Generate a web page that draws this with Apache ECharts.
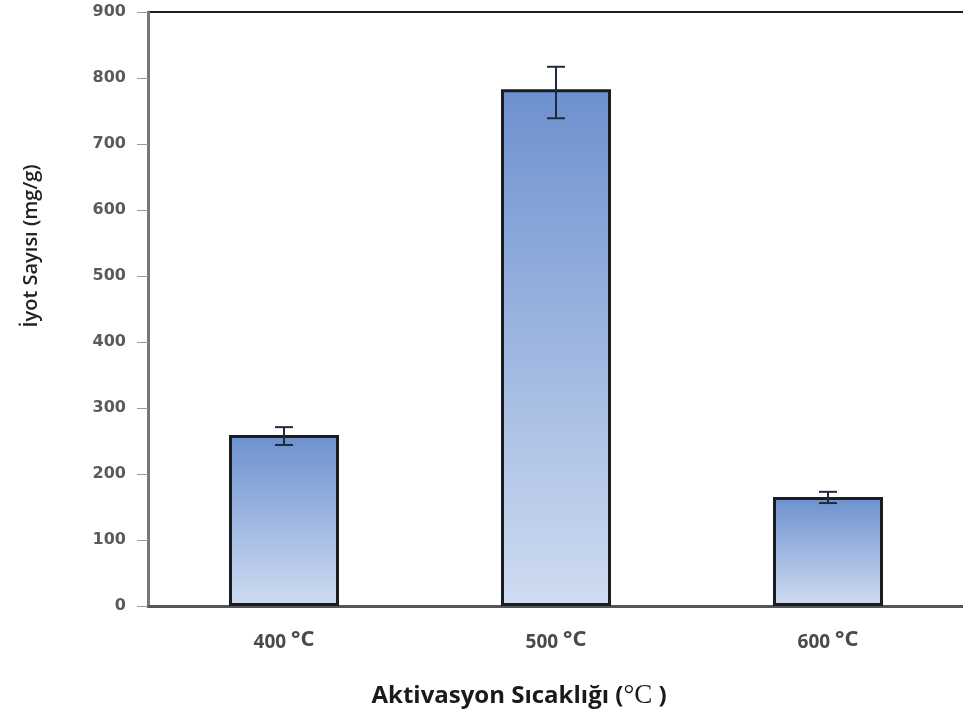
<!DOCTYPE html>
<html><head><meta charset="utf-8">
<script src="https://cdn.jsdelivr.net/npm/echarts@6/dist/echarts.min.js"></script>
<style>html,body{margin:0;padding:0;background:#fff}#c{width:963px;height:719px}</style>
</head><body><div id="c"></div>
<script>
const categories = ['400', '500', '600'];
const values = [259, 783, 165];
const errLow = [244, 739, 156];
const errHigh = [271, 817, 173];
const yTicks = [0, 100, 200, 300, 400, 500, 600, 700, 800, 900];

const chart = echarts.init(document.getElementById('c'));
chart.setOption({
  animation: false,
  grid: { left: 148, top: 12, width: 816, bottom: 113, outerBoundsMode: 'none', containLabel: false,
          show: true, borderColor: '#1f1f1f', borderWidth: 2 },
  xAxis: {
    type: 'category', data: categories,
    axisLine: { lineStyle: { color: '#555', width: 3 } },
    axisTick: { show: false },
    axisLabel: {
      margin: 22,
      formatter: v => '{n|' + v + ' }{d|°C}',
      rich: {
        n: { fontFamily: 'Open Sans', fontWeight: 'bold', fontSize: 19, color: '#4a4a4a', padding: [5, 0, 0, 0] },
        d: { fontFamily: 'Open Sans', fontWeight: 'bold', fontSize: 22, color: '#4a4a4a' }
      }
    }
  },
  yAxis: {
    type: 'value', min: 0, max: 900, interval: 100,
    splitLine: { show: false },
    axisLine: { show: true, lineStyle: { color: '#777', width: 3 } },
    axisTick: { show: true, length: 11, lineStyle: { color: '#999', width: 1 } },
    axisLabel: {
      margin: 22, fontFamily: 'DejaVu Sans', fontWeight: 'bold', fontSize: 16, color: '#5a5a5a',
      formatter: v => yTicks.includes(v) ? String(v) : ''
    }
  },
  graphic: [
    { type: 'text', x: 31, y: 246, rotation: Math.PI / 2,
      style: { text: 'İyot Sayısı (mg/g)', font: '600 20px "Open Sans"', fill: '#222', align: 'center', verticalAlign: 'middle' } },
    { type: 'text', x: 519, y: 696,
      style: {
        text: '{a|Aktivasyon Sıcaklığı (}{b|°C}{a| )}', align: 'center', verticalAlign: 'middle',
        rich: {
          a: { fontFamily: 'Open Sans', fontSize: 24, fill: '#1a1a1a', fontWeight: 'bold' },
          b: { fontFamily: 'Liberation Serif', fontSize: 27, fill: '#1a1a1a' }
        }
      } }
  ],
  series: [
    {
      type: 'bar', data: values, barWidth: 110,
      itemStyle: {
        borderColor: '#1a1c24', borderWidth: 3,
        color: new echarts.graphic.LinearGradient(0, 0, 0, 1, [
          { offset: 0, color: '#6d91cf' },
          { offset: 1, color: '#cfdcf1' }
        ])
      }
    },
    {
      type: 'custom',
      data: categories.map((c, i) => [i, errLow[i], errHigh[i]]),
      renderItem: (params, api) => {
        const x = api.value(0);
        const lo = api.coord([x, api.value(1)]);
        const hi = api.coord([x, api.value(2)]);
        const hw = 9;
        const st = { stroke: '#1f2a3c', lineWidth: 2 };
        return { type: 'group', children: [
          { type: 'line', shape: { x1: lo[0], y1: lo[1], x2: hi[0], y2: hi[1] }, style: st },
          { type: 'line', shape: { x1: lo[0] - hw, y1: lo[1], x2: lo[0] + hw, y2: lo[1] }, style: st },
          { type: 'line', shape: { x1: hi[0] - hw, y1: hi[1], x2: hi[0] + hw, y2: hi[1] }, style: st }
        ] };
      },
      z: 5
    }
  ]
});
</script></body></html>
